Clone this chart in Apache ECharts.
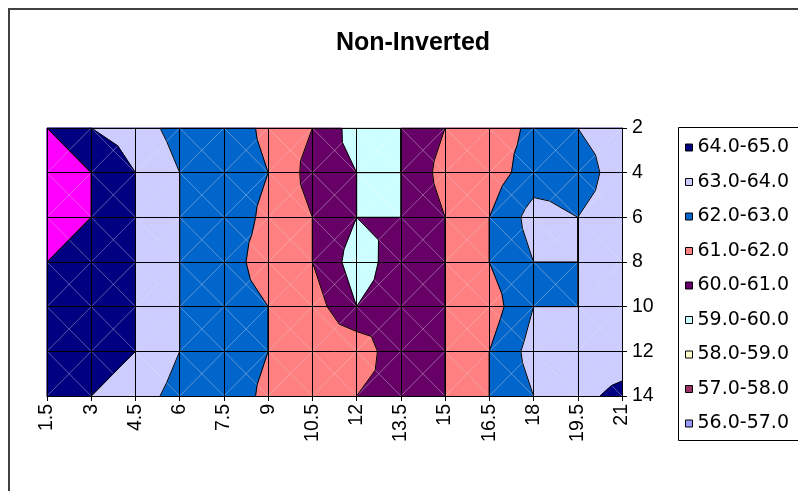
<!DOCTYPE html>
<html>
<head>
<meta charset="utf-8">
<script src="https://cdn.jsdelivr.net/npm/echarts/dist/echarts.min.js"></script>
<style>html,body{margin:0;padding:0;background:#fff}#c{width:798px;height:491px}</style>
</head>
<body>
<div id="c"></div>
<script>
// Category positions (x) and tick labels (y, shown on the right, 2 at top)
const xValues = [1.5, 3, 4.5, 6, 7.5, 9, 10.5, 12, 13.5, 15, 16.5, 18, 19.5, 21];
const yValues = [2, 4, 6, 8, 10, 12, 14];

// Surface values, one row per y value
const z2  = [65,   64,   63.5, 62.6, 62.5, 61.8, 61,   59.5, 60,    61,   61.5, 62.2, 63,   63.5];
const z4  = [66,   65,   64,   63,   62.5, 62,   60.6, 60,   60,    61.4, 61.5, 62.5, 62.5, 63.5];
const z6  = [65.5, 65,   64,   63,   62.5, 61.8, 61,   60,   60,    61,   62,   63.4, 63,   63.5];
const z8  = [65,   64.5, 64,   63,   62.5, 61.5, 61,   59.5, 60.52, 61,   62,   63,   63,   63.5];
const z10 = [64.8, 64.5, 64,   63,   62.5, 62,   61.5, 60,   60.5,  61,   61.5, 63,   63,   63.5];
const z12 = [64.6, 64.5, 64,   63,   62.5, 62,   61.8, 61.8, 60.1,  61,   62,   63.4, 63.5, 63.6];
const z14 = [64.5, 64,   63.5, 62.6, 62.5, 61.8, 61.5, 61,   60.5,  61,   62,   63,   63.8, 64.2];

// Contour bands
const bandLows   = [56, 57, 58, 59, 60, 61, 62, 63, 64, 65];
const bandNames  = ['56.0-57.0','57.0-58.0','58.0-59.0','59.0-60.0','60.0-61.0','61.0-62.0','62.0-63.0','63.0-64.0','64.0-65.0','65.0-66.0'];
const bandColors = ['#9999FF','#993366','#FFFFCC','#CCFFFF','#660066','#FF8080','#0066CC','#CCCCFF','#000080','#FF00FF'];
const legendNames = ['64.0-65.0','63.0-64.0','62.0-63.0','61.0-62.0','60.0-61.0','59.0-60.0','58.0-59.0','57.0-58.0','56.0-57.0'];

const zRows = [z2, z4, z6, z8, z10, z12, z14];
const levels = [57, 58, 59, 60, 61, 62, 63, 64, 65];
const FONT = 'Liberation Sans, Arial, Helvetica, sans-serif';

const cells = [];
for (let j = 0; j < yValues.length - 1; j++) {
  for (let i = 0; i < xValues.length - 1; i++) cells.push([xValues[i], yValues[j], i, j]);
}

function cellTriangles(i, j) {
  const c = [
    {x: xValues[i],     y: yValues[j],     v: zRows[j][i]},
    {x: xValues[i + 1], y: yValues[j],     v: zRows[j][i + 1]},
    {x: xValues[i + 1], y: yValues[j + 1], v: zRows[j + 1][i + 1]},
    {x: xValues[i],     y: yValues[j + 1], v: zRows[j + 1][i]}
  ];
  const m = {x: (c[0].x + c[1].x) / 2, y: (c[0].y + c[3].y) / 2, v: (c[0].v + c[1].v + c[2].v + c[3].v) / 4};
  return [0, 1, 2, 3].map(k => [c[k], c[(k + 1) % 4], m]);
}

function lerp(P, Q, L) {
  const t = (L - P.v) / (Q.v - P.v);
  return {x: P.x + t * (Q.x - P.x), y: P.y + t * (Q.y - P.y), v: L};
}

function clipAbove(tri, lo) {
  const out = [];
  for (let k = 0; k < 3; k++) {
    const P = tri[k], Q = tri[(k + 1) % 3];
    const pin = P.v > lo, qin = Q.v > lo;
    if (pin) out.push(P);
    if (pin !== qin) out.push(lerp(P, Q, lo));
  }
  return out;
}

function bandRender(lo, color) {
  return function (params, api) {
    const i = api.value(2), j = api.value(3);
    const children = [];
    cellTriangles(i, j).forEach(tri => {
      const pts = clipAbove(tri, lo);
      if (pts.length >= 3) {
        children.push({
          type: 'polygon', silent: true,
          shape: {points: pts.map(p => api.coord([p.x, p.y]))},
          style: {fill: color, stroke: color, lineWidth: 0.6}
        });
      }
    });
    return {type: 'group', children};
  };
}

function contourRender(params, api) {
  const i = api.value(2), j = api.value(3);
  const children = [];
  const a = api.coord([xValues[i], yValues[j]]);
  const b = api.coord([xValues[i + 1], yValues[j]]);
  const c = api.coord([xValues[i + 1], yValues[j + 1]]);
  const d = api.coord([xValues[i], yValues[j + 1]]);
  const diag = {stroke: 'rgba(255,255,255,0.3)', lineWidth: 1};
  children.push({type: 'line', silent: true, shape: {x1: a[0], y1: a[1], x2: c[0], y2: c[1]}, style: diag});
  children.push({type: 'line', silent: true, shape: {x1: b[0], y1: b[1], x2: d[0], y2: d[1]}, style: diag});
  cellTriangles(i, j).forEach(tri => {
    levels.forEach(L => {
      const pts = [];
      for (let k = 0; k < 3; k++) {
        const P = tri[k], Q = tri[(k + 1) % 3];
        if (P.v === L) pts.push(P);
        else if ((P.v - L) * (Q.v - L) < 0) pts.push(lerp(P, Q, L));
      }
      if (pts.length === 2) {
        const p1 = api.coord([pts[0].x, pts[0].y]), p2 = api.coord([pts[1].x, pts[1].y]);
        children.push({type: 'line', silent: true, shape: {x1: p1[0], y1: p1[1], x2: p2[0], y2: p2[1]},
          style: {stroke: '#000', lineWidth: 1}});
      }
    });
  });
  return {type: 'group', children};
}

const series = bandLows.map((lo, k) => ({
  type: 'custom',
  name: bandNames[k],
  coordinateSystem: 'cartesian2d',
  data: cells,
  encode: {x: 0, y: 1},
  itemStyle: {color: bandColors[k]},
  renderItem: bandRender(lo, bandColors[k]),
  z: 2,
  silent: true
}));
series.push({
  type: 'custom',
  name: 'contours',
  coordinateSystem: 'cartesian2d',
  data: cells,
  encode: {x: 0, y: 1},
  renderItem: contourRender,
  z: 5,
  silent: true
});

const chart = echarts.init(document.getElementById('c'), null, {renderer: 'canvas'});
chart.setOption({
  animation: false,
  backgroundColor: '#fff',
  title: {
    text: 'Non-Inverted', left: 408, top: 26, textAlign: 'center',
    textStyle: {fontSize: 25, fontWeight: 'bold', fontFamily: FONT, color: '#000'}
  },
  grid: {left: 47, top: 128, width: 575, height: 268, containLabel: false},
  xAxis: {
    type: 'value', min: 1.5, max: 21, interval: 1.5, position: 'bottom', z: 10,
    axisLine: {show: true, onZero: false, lineStyle: {color: '#000', width: 1}},
    axisTick: {show: true, length: 5, lineStyle: {color: '#000', width: 1}},
    axisLabel: {rotate: 90, fontSize: 19.5, fontFamily: FONT, color: '#000', margin: 8},
    splitLine: {show: true, lineStyle: {color: '#000', width: 1}}
  },
  yAxis: {
    type: 'value', min: 2, max: 14, interval: 2, inverse: true, position: 'right', z: 10,
    axisLine: {show: true, onZero: false, lineStyle: {color: '#000', width: 1}},
    axisTick: {show: true, length: 5, lineStyle: {color: '#000', width: 1}},
    axisLabel: {fontSize: 19.5, fontFamily: FONT, color: '#000', margin: 10},
    splitLine: {show: true, lineStyle: {color: '#000', width: 1}}
  },
  legend: {
    orient: 'vertical', left: 678, top: 127,
    padding: [10.5, 6, 11.5, 7],
    itemGap: 14.5, itemWidth: 7, itemHeight: 7, icon: 'rect',
    itemStyle: {borderColor: '#000', borderWidth: 1},
    selectedMode: false,
    data: legendNames,
    textStyle: {fontSize: 19, fontFamily: 'DejaVu Sans, Liberation Sans, sans-serif', color: '#000', lineHeight: 20}
  },
  graphic: [{
    type: 'rect', silent: true, z: -1,
    shape: {x: 9, y: 9, width: 900, height: 600},
    style: {fill: null, stroke: '#404040', lineWidth: 2}
  }, {
    type: 'rect', silent: true, z: -1,
    shape: {x: 678.5, y: 127.5, width: 200, height: 313},
    style: {fill: '#fff', stroke: '#000', lineWidth: 1}
  }],
  series: series
});
</script>
</body>
</html>
